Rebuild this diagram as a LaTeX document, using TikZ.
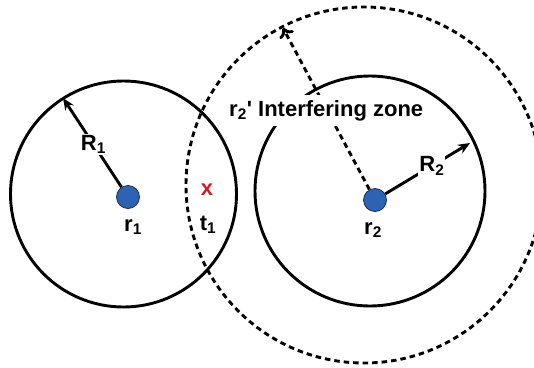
\documentclass[tikz,border=0pt]{standalone}
\usepackage{fontspec}
\setmainfont{Liberation Sans}
\usetikzlibrary{arrows.meta}
\definecolor{dotblue}{RGB}{46,98,178}
\definecolor{dotedge}{RGB}{25,45,85}
\definecolor{xred}{RGB}{205,30,35}
\tikzset{
 ring/.style={draw=black,line width=2.9pt},
 dashring/.style={draw=black,line width=2.9pt,dash pattern=on 5.5pt off 4pt},
 dot/.style={circle,fill=dotblue,draw=dotedge,line width=0.8pt,minimum size=23pt,inner sep=0pt},
 lbl/.style={font=\fontsize{22}{26}\selectfont\bfseries,inner sep=1pt},
 radiusarrow/.style={line width=2.9pt,-{Stealth[length=12pt,width=10pt]}},
 dashedarrow/.style={line width=2.9pt,dash pattern=on 5.5pt off 4pt,-{To[length=9pt,width=16pt]}},
}
\begin{document}
\begin{tikzpicture}[x=1pt,y=-1pt]
\useasboundingbox (0,0) rectangle (534,367);
\clip (0,0) rectangle (534,367);
\draw[ring] (123.5,194) circle[radius=113];
\draw[ring] (370,191) circle[radius=115];
\draw[dashring] (364,185) circle[radius=178];
\node[dot] (d1) at (128,197) {};
\node[dot] (d2) at (375,200) {};
\coordinate (tip1) at (63,98);
\coordinate (tip2) at (470,143);
\coordinate (tip3) at (283,28);
\draw[radiusarrow] (d1) -- node[lbl,fill=white,pos=0.48] (R1) {R\textsubscript{1}} (tip1);
\draw[radiusarrow] (d2) -- node[lbl,fill=white,pos=0.55] (R2) {R\textsubscript{2}} (tip2);
\draw[dashedarrow] (d2) -- (tip3);
\node[lbl,fill=white,anchor=base west,inner ysep=5pt] (zone) at (228,116) {r\textsubscript{2}\textquotesingle{} Interfering zone};
\node[lbl] (l1) at (133,227) {r\textsubscript{1}};
\node[lbl] (l2) at (373,230) {r\textsubscript{2}};
\node[lbl] (t1) at (208,225) {t\textsubscript{1}};
\node[lbl,text=xred] (x) at (207,190) {x};
\end{tikzpicture}
\end{document}
